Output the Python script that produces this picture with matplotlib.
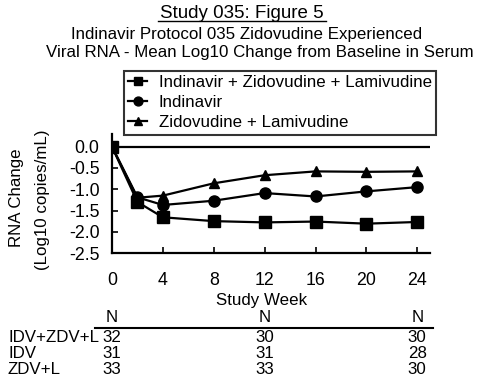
import matplotlib
matplotlib.use("Agg")
import matplotlib.pyplot as plt
from matplotlib.lines import Line2D

plt.rcParams['font.family'] = ['Liberation Sans', 'DejaVu Sans']

weeks = [0, 2, 4, 8, 12, 16, 20, 24]
idv_zdv_l = [0.0, -1.30, -1.66, -1.75, -1.78, -1.76, -1.81, -1.77]
idv = [0.0, -1.19, -1.37, -1.27, -1.09, -1.17, -1.05, -0.95]
zdv_l = [0.0, -1.20, -1.15, -0.86, -0.67, -0.58, -0.59, -0.58]

series_labels = ["Indinavir + Zidovudine + Lamivudine", "Indinavir", "Zidovudine + Lamivudine"]
xticks = [0, 4, 8, 12, 16, 20, 24]
yticks = [0.0, -0.5, -1.0, -1.5, -2.0, -2.5]

table_weeks = [0, 12, 24]
table_rows = ["IDV+ZDV+L", "IDV", "ZDV+L"]
table_n = [[32, 30, 30], [31, 31, 28], [33, 33, 30]]

W, H = 480, 383
fig = plt.figure(figsize=(W / 100, H / 100), dpi=100)
fig.patch.set_facecolor('white')

def fx(px):
    return px / W

def fy(py):
    return 1 - py / H

FS = 12.2

ax = fig.add_axes([fx(112), fy(253), fx(430) - fx(112), fy(134) - fy(253)])
ax.set_xlim(0, 25)
ax.set_ylim(-2.5, 0.3)

lw = 1.6
l1, = ax.plot(weeks, idv_zdv_l, color='black', lw=lw, marker='s', markersize=8, zorder=3)
l2, = ax.plot(weeks, idv, color='black', lw=lw, marker='o', markersize=8, zorder=3)
l3, = ax.plot(weeks, zdv_l, color='black', lw=lw, marker='^', markersize=7, zorder=3)
ax.axhline(0, color='black', lw=1.6, zorder=2)

for s in ['top', 'right']:
    ax.spines[s].set_visible(False)
for s in ['left', 'bottom']:
    ax.spines[s].set_linewidth(1.6)

ax.set_xticks(xticks)
ax.set_yticks(yticks)
ax.set_yticklabels([f"{v:.1f}" for v in yticks])
ax.tick_params(direction='in', length=4, width=1.2, labelsize=12.8, pad=9)
ax.tick_params(axis='x', pad=14)

fig.text(fx(262), fy(300), "Study Week", ha='center', va='center', fontsize=FS)
fig.text(fx(17), fy(198), "RNA Change", ha='center', va='center', rotation=90, fontsize=FS)
fig.text(fx(43), fy(200), "(Log10 copies/mL)", ha='center', va='center', rotation=90, fontsize=FS)

# titles
fig.text(fx(242), fy(13), "Study 035: Figure 5", ha='center', va='center', fontsize=13.5)
fig.add_artist(Line2D([fx(158), fx(326)], [fy(21), fy(21)], color='black', lw=1.0))
fig.text(fx(247), fy(34), "Indinavir Protocol 035 Zidovudine Experienced", ha='center', va='center', fontsize=FS)
fig.text(fx(260), fy(53), "Viral RNA - Mean Log10 Change from Baseline in Serum", ha='center', va='center', fontsize=FS)

leg = fig.legend([l1, l2, l3], series_labels, loc='upper left',
                 bbox_to_anchor=(fx(124), fy(71)), borderaxespad=0,
                 fontsize=FS, handlelength=1.1, handletextpad=0.7,
                 labelspacing=0.3, borderpad=0.25, fancybox=False,
                 frameon=True, markerscale=0.8)
leg.get_frame().set_edgecolor('black')
leg.get_frame().set_linewidth(1.5)
leg.set_zorder(10)

# N table
for wk in table_weeks:
    fig.text(ax.transData.transform((wk, 0))[0] / W, fy(318), "N", ha='center', va='center',
             fontsize=FS)
x0 = ax.transData.transform((-1.35, 0))[0] / W
x1 = ax.transData.transform((25.2, 0))[0] / W
fig.add_artist(Line2D([x0, x1], [fy(328), fy(328)], color='black', lw=1.5))
row_y = [337, 353, 370]
for lbl, vals, ry in zip(table_rows, table_n, row_y):
    fig.text(fx(8), fy(ry), lbl, ha='left', va='center', fontsize=FS)
    for wk, v in zip(table_weeks, vals):
        xx = ax.transData.transform((wk, 0))[0] / W
        fig.text(xx, fy(ry), str(v), ha='center', va='center', fontsize=FS)

fig.savefig("out.png", dpi=100, facecolor='white')
